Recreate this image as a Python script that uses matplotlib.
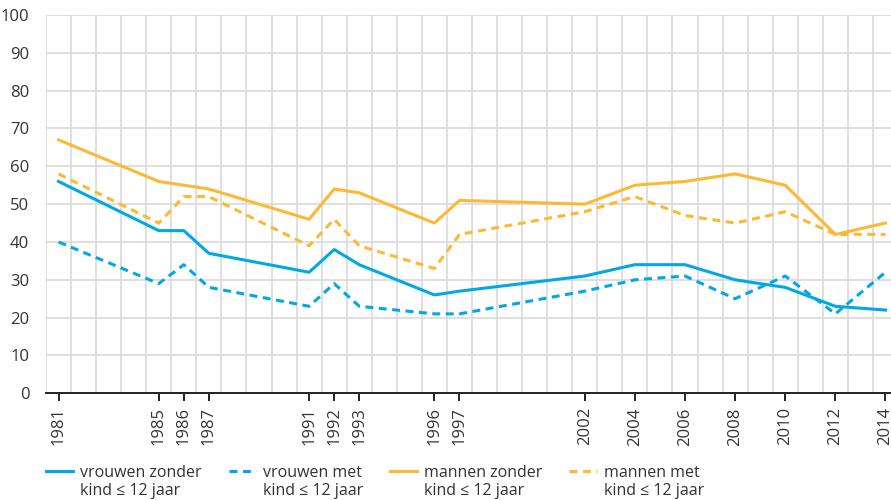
import matplotlib.pyplot as plt
from matplotlib.ticker import MultipleLocator, FixedLocator
import numpy as np

years = [1981, 1985, 1986, 1987, 1991, 1992, 1993, 1996, 1997,
         2002, 2004, 2006, 2008, 2010, 2012, 2014]

vrouwen_zonder = [56, 43, 43, 37, 32, 38, 34, 26, 27, 31, 34, 34, 30, 28, 23, 22]
vrouwen_met = [40, 29, 34, 28, 23, 29, 23, 21, 21, 27, 30, 31, 25, 31, 21, 32]
mannen_zonder = [67, 56, 55, 54, 46, 54, 53, 45, 51, 50, 55, 56, 58, 55, 42, 45]
mannen_met = [58, 45, 52, 52, 39, 46, 39, 33, 42, 48, 52, 47, 45, 48, 42, 42]

labels = ["vrouwen zonder", "vrouwen met", "mannen zonder", "mannen met"]
sublabel = "kind \u2264 12 jaar"

BLUE = "#00a8e6"
ORANGE = "#fdb933"
TEXT = "#333333"
GRID = "#d9d9d9"

plt.rcParams['font.family'] = ['Open Sans', 'DejaVu Sans']

W, H = 891, 500
fig = plt.figure(figsize=(W / 100, H / 100), dpi=100)
ax = fig.add_axes([46 / W, 1 - 393.3 / H, 1 - 46 / W, (393.3 - 15) / H])

lw = 2.2
dash = (0, (2.6, 1.8))
ax.plot(years, vrouwen_zonder, color=BLUE, lw=lw, label=labels[0])
ax.plot(years, vrouwen_met, color=BLUE, lw=lw, ls=dash, label=labels[1])
ax.plot(years, mannen_zonder, color=ORANGE, lw=lw, label=labels[2])
ax.plot(years, mannen_met, color=ORANGE, lw=lw, ls=dash, label=labels[3])

ax.set_xlim(1980.5, 2014.22)
ax.set_ylim(0, 100)

ax.xaxis.set_major_locator(FixedLocator(years))
ax.xaxis.set_minor_locator(FixedLocator(np.arange(1980.5, 2014.5, 1)))
ax.yaxis.set_major_locator(MultipleLocator(10))

ax.grid(True, which='minor', axis='x', color=GRID, lw=1.2)
ax.grid(True, which='major', axis='y', color=GRID, lw=1.2)
ax.set_axisbelow(True)

for s in ['top', 'right', 'left']:
    ax.spines[s].set_visible(False)
ax.spines['bottom'].set_color('#222222')
ax.spines['bottom'].set_linewidth(1.4)

ax.tick_params(axis='x', which='major', length=6, width=1.4, color='#222222',
               labelsize=12, labelcolor=TEXT, labelrotation=90, pad=4)
ax.tick_params(axis='x', which='minor', length=0)
ax.tick_params(axis='y', length=0, labelsize=12, labelcolor=TEXT, pad=12)

# legend: first line next to the handle, second line underneath
leg = fig.legend(loc='center left', bbox_to_anchor=(46 / W, 1 - 473 / H), ncol=4,
                 frameon=False, fontsize=11.5, labelcolor=TEXT, handlelength=1.7,
                 handletextpad=0.45, columnspacing=1.7, borderaxespad=0, borderpad=0)

fig.canvas.draw()
for t in leg.get_texts():
    bb = t.get_window_extent()
    fig.text(bb.x0 / W, 1 - 491 / H, sublabel, fontsize=11.5, color=TEXT,
             ha='left', va='center')

fig.savefig("out.png", dpi=100)
